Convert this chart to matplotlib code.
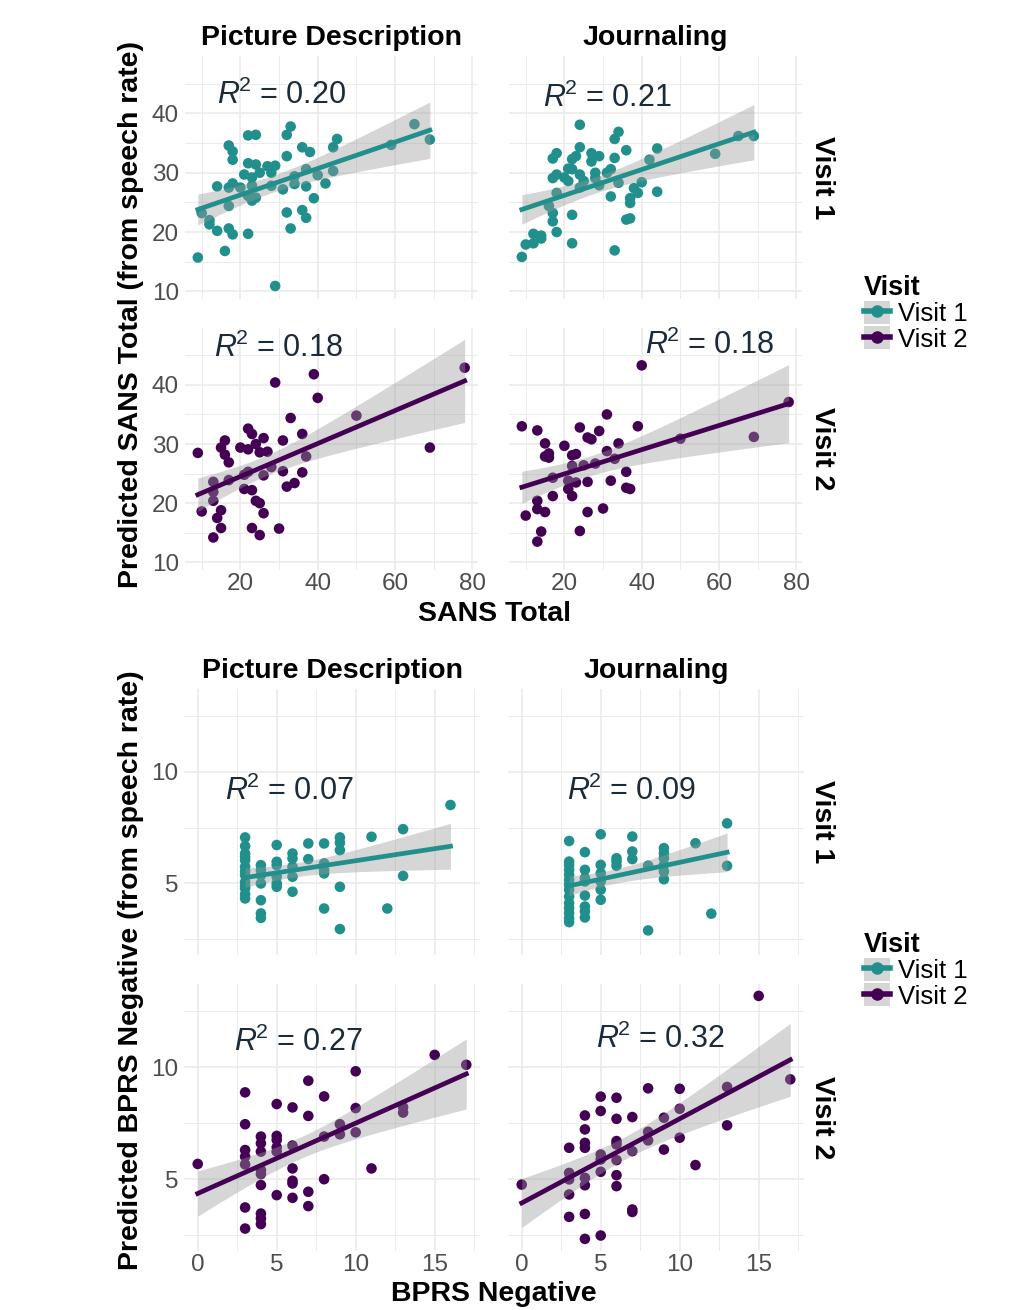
import numpy as np
import matplotlib
matplotlib.use("Agg")
import matplotlib.pyplot as plt
from matplotlib.lines import Line2D
from matplotlib.patches import Patch
from matplotlib.legend_handler import HandlerTuple

plt.rcParams['font.family'] = ['Liberation Sans', 'DejaVu Sans']
plt.rcParams['mathtext.fontset'] = 'custom'
plt.rcParams['mathtext.rm'] = 'Liberation Sans'
plt.rcParams['mathtext.it'] = 'Liberation Sans:italic'

# ---- data: SANS Total vs predicted SANS ----
sans_pd_v1_x = [9, 10, 12, 12, 14, 14, 16, 17, 18, 18, 17, 17, 17, 18, 18, 20, 22, 24, 22, 24,
                21, 23, 25, 27, 29, 28, 23, 22, 23, 24, 22, 28, 29, 31, 32, 32, 33, 32, 33, 34,
                34, 36, 38, 37, 37, 36, 37, 39, 40, 42, 44, 45, 44, 59, 65, 69]
sans_pd_v1_y = [15.7, 23.2, 22.0, 21.3, 20.2, 27.7, 16.8, 34.6, 33.6, 32.2, 27.5, 24.4, 20.6, 19.6, 28.2, 27.5, 36.3, 36.4, 31.6, 31.4,
                29.7, 29.2, 30.0, 31.1, 31.2, 30.0, 27.8, 26.1, 25.3, 25.8, 19.7, 27.8, 10.9, 27.2, 32.8, 36.4, 37.8, 23.3, 20.6, 29.4,
                28.1, 34.3, 33.5, 30.6, 27.7, 23.7, 22.4, 25.7, 29.6, 28.2, 34.3, 35.7, 30.3, 34.7, 38.2, 35.6]

sans_j_v1_x = [9, 10, 12, 12, 14, 14, 16, 17, 17, 18, 18, 17, 18, 17, 18, 20, 21, 21, 22, 23,
               24, 24, 22, 24, 25, 22, 22, 24, 27, 29, 27, 28, 28, 29, 31, 32, 32, 33, 34, 33,
               34, 33, 36, 36, 37, 37, 37, 38, 39, 40, 42, 44, 44, 59, 65, 69]
sans_j_v1_y = [15.8, 17.9, 19.7, 18.1, 18.9, 19.4, 24.4, 23.2, 21.8, 20.0, 26.6, 29.1, 29.7, 32.4, 33.3, 29.2, 28.6, 30.7, 32.3, 32.8,
               34.3, 38.1, 30.6, 29.7, 28.6, 22.9, 18.1, 27.5, 33.3, 32.8, 31.9, 30.0, 29.1, 27.9, 30.0, 30.6, 26.0, 35.7, 36.9, 32.5,
               28.3, 16.9, 33.8, 22.1, 22.3, 24.9, 25.7, 27.4, 26.6, 28.4, 32.2, 34.1, 26.8, 33.2, 36.2, 36.2]

sans_pd_v2_x = [9, 10, 13, 13, 13, 13, 14, 15, 15, 15, 16, 16, 17, 17, 20, 21, 21, 22, 22, 23,
                22, 23, 23, 24, 24, 25, 25, 25, 26, 26, 26, 27, 28, 29, 30, 31, 31, 32, 33, 34,
                36, 36, 37, 39, 40, 50, 69, 78]
sans_pd_v2_y = [28.5, 18.6, 23.6, 21.9, 20.4, 14.2, 17.5, 18.8, 15.8, 29.4, 30.6, 28.2, 26.9, 23.9, 29.4, 24.8, 22.4, 25.3, 32.6, 31.7,
                29.1, 22.2, 15.8, 20.4, 30.0, 20.0, 28.6, 14.6, 31.0, 24.7, 18.3, 28.7, 26.1, 40.4, 15.7, 30.6, 25.4, 22.8, 34.4, 23.4,
                31.7, 25.2, 27.9, 41.8, 37.8, 34.8, 29.4, 42.9]

sans_j_v2_x = [9, 10, 13, 13, 13, 13, 14, 15, 15, 15, 16, 16, 17, 17, 20, 21, 21, 22, 22, 22,
               23, 23, 24, 24, 25, 26, 27, 26, 26, 28, 29, 30, 31, 31, 32, 33, 34, 36, 36, 37,
               39, 40, 50, 69, 78]
sans_j_v2_y = [33.0, 17.9, 32.3, 20.4, 19.0, 13.5, 15.2, 30.1, 18.5, 27.9, 28.4, 27.7, 24.3, 21.2, 29.7, 23.8, 22.4, 21.2, 26.3, 28.1,
               28.3, 23.5, 32.8, 15.3, 26.4, 31.1, 30.8, 23.6, 18.5, 26.7, 32.2, 19.1, 35.0, 28.8, 23.8, 27.5, 30.1, 25.3, 22.6, 22.4,
               33.0, 43.3, 30.9, 31.2, 37.1]

# ---- data: BPRS Negative vs predicted BPRS Negative ----
bprs_pd_v1_x = [3, 3, 3, 3, 3, 3, 3, 3, 3, 3, 3, 3, 3, 4, 4, 4, 4, 4, 4, 4, 5, 5, 5, 5, 5, 5,
                6, 6, 6, 6, 6, 7, 7, 8, 8, 8, 8, 8, 9, 9, 9, 9, 9, 11, 12, 13, 13, 16]
bprs_pd_v1_y = [7.06, 6.67, 6.34, 6.04, 5.75, 5.37, 5.07, 4.78, 4.52, 4.33, 6.19, 5.55, 4.90,
                5.82, 5.60, 5.37, 5.00, 4.25, 3.66, 3.46, 6.72, 5.97, 5.82, 5.30, 5.00, 4.85,
                6.34, 6.12, 5.75, 5.30, 4.63, 6.79, 6.09, 6.79, 5.90, 5.60, 5.45, 3.88,
                7.06, 6.82, 6.49, 4.85, 2.96, 7.09, 3.88, 7.43, 5.34, 8.51]

bprs_j_v1_x = [3, 3, 3, 3, 3, 3, 3, 3, 3, 3, 3, 3, 3, 3, 4, 4, 4, 4, 4, 4, 4, 4, 5, 5, 5, 5, 5, 5,
               6, 6, 6, 7, 7, 7, 8, 8, 9, 9, 9, 9, 9, 9, 11, 12, 13, 13]
bprs_j_v1_y = [6.90, 5.98, 5.83, 5.61, 5.39, 5.16, 4.94, 4.72, 4.42, 4.12, 3.90, 3.68, 3.45, 3.27,
               6.40, 5.61, 5.24, 5.09, 4.46, 3.97, 3.75, 3.48, 7.20, 5.83, 5.46, 5.09, 4.72, 4.27,
               6.13, 5.98, 5.79, 7.10, 6.43, 6.09, 5.80, 2.90, 6.58, 6.35, 6.13, 5.83, 5.54, 5.19,
               6.80, 3.65, 7.69, 5.79]

bprs_pd_v2_x = [0, 3, 3, 3, 3, 3, 3, 3, 4, 4, 4, 4, 4, 4, 4, 4, 4, 5, 5, 5, 5, 5, 5,
                6, 6, 6, 6, 6, 6, 7, 7, 7, 7, 8, 8, 8, 9, 9, 10, 10, 10, 11, 13, 13, 15, 17]
bprs_pd_v2_y = [5.68, 8.87, 7.45, 6.30, 6.01, 5.66, 3.74, 2.80, 6.90, 6.60, 6.23, 5.41, 5.23, 4.74, 3.47, 3.25, 3.00,
                8.35, 6.93, 6.75, 6.42, 6.23, 4.29, 8.20, 6.50, 5.48, 4.93, 4.81, 4.17,
                9.39, 7.82, 4.44, 3.80, 8.69, 6.90, 5.00, 7.45, 7.00, 9.81, 8.17, 7.09, 5.48, 8.21, 7.97, 10.54, 10.10]

bprs_j_v2_x = [0, 3, 3, 3, 3, 3, 4, 4, 4, 4, 4, 4, 4, 4, 5, 5, 5, 5, 5, 5, 6, 6, 6, 6, 6, 6, 6,
               7, 7, 7, 7, 8, 8, 8, 9, 9, 10, 10, 10, 11, 13, 13, 15, 17]
bprs_j_v2_y = [4.76, 6.40, 5.28, 4.99, 4.32, 3.32, 7.84, 7.22, 6.62, 6.40, 5.06, 4.73, 3.45, 2.34,
               8.68, 8.04, 6.10, 5.88, 5.33, 2.49, 8.63, 7.69, 6.70, 6.55, 5.85, 5.18, 4.69,
               7.77, 6.25, 3.65, 3.54, 9.05, 7.11, 6.73, 7.74, 6.32, 9.03, 8.14, 6.85, 5.63, 9.11, 7.40, 13.17, 9.45]

r2_sans = ["0.20", "0.21", "0.18", "0.18"]
r2_bprs = ["0.07", "0.09", "0.27", "0.32"]
tasks = ["Picture Description", "Journaling"]
visits = ["Visit 1", "Visit 2"]

TEAL = "#21908C"
PURPLE = "#440154"
GRID = "#EBEBEB"
W, H = 1024, 1310


def box(x0, y0, x1, y1):
    return [x0 / W, 1 - y1 / H, (x1 - x0) / W, (y1 - y0) / H]


def draw_panel(ax, x, y, color, xlim, ylim, xt, yt, xminor, yminor, r2, r2pos, show_x, show_y):
    x = np.asarray(x, float)
    y = np.asarray(y, float)
    ax.set_xlim(xlim)
    ax.set_ylim(ylim)
    ax.set_xticks(xt)
    ax.set_yticks(yt)
    ax.set_xticks(xminor, minor=True)
    ax.set_yticks(yminor, minor=True)
    ax.grid(True, which='major', color=GRID, lw=1.2, zorder=0)
    ax.grid(True, which='minor', color=GRID, lw=0.7, zorder=0)
    ax.set_axisbelow(True)
    for s in ax.spines.values():
        s.set_visible(False)
    ax.tick_params(which='both', length=0, labelsize=17.5, labelcolor="#4D4D4D")
    ax.tick_params(axis='x', pad=2.5)
    ax.tick_params(axis='y', pad=4)
    if not show_x:
        ax.set_xticklabels([])
    if not show_y:
        ax.set_yticklabels([])

    ax.scatter(x, y, s=58, color=color, edgecolors='none', zorder=2)

    # linear fit + 95% CI, like geom_smooth(method = "lm")
    n = len(x)
    b, a = np.polyfit(x, y, 1)
    xs = np.linspace(x.min(), x.max(), 80)
    fit = a + b * xs
    resid = y - (a + b * x)
    sigma = np.sqrt(np.sum(resid ** 2) / (n - 2))
    sxx = np.sum((x - x.mean()) ** 2)
    se = sigma * np.sqrt(1 / n + (xs - x.mean()) ** 2 / sxx)
    ax.fill_between(xs, fit - 2.0 * se, fit + 2.0 * se, color="#999999", alpha=0.4, lw=0, zorder=3)
    ax.plot(xs, fit, color=color, lw=3.4, zorder=4)

    ax.text(r2pos[0], r2pos[1], r"$R^{\!2}$ = " + r2, fontsize=22, color="#1C2B3A",
            ha='center', va='center', zorder=5)


fig = plt.figure(figsize=(W / 100, H / 100), dpi=100)

# ---------- SANS block ----------
sans_cols = [(184.5, 478), (508.5, 802)]
sans_rows = [(56, 299), (327.5, 570)]
sans_data = [[(sans_pd_v1_x, sans_pd_v1_y), (sans_j_v1_x, sans_j_v1_y)],
             [(sans_pd_v2_x, sans_pd_v2_y), (sans_j_v2_x, sans_j_v2_y)]]
sans_r2pos = [[(30.7, 43.0), (31.0, 42.5)], [(29.7, 46.2), (57.6, 46.7)]]
for i in range(2):
    for j in range(2):
        ax = fig.add_axes(box(sans_cols[j][0], sans_rows[i][0], sans_cols[j][1], sans_rows[i][1]))
        xd, yd = sans_data[i][j]
        draw_panel(ax, xd, yd, TEAL if i == 0 else PURPLE,
                   (5.55, 81.45), (8.7, 49.7), [20, 40, 60, 80], [10, 20, 30, 40],
                   [10, 30, 50, 70], [15, 25, 35, 45], r2_sans[i * 2 + j], sans_r2pos[i][j],
                   show_x=(i == 1), show_y=(j == 0))

# ---------- BPRS block ----------
bprs_cols = [(184.3, 479.7), (508.3, 803.7)]
bprs_rows = [(689, 955), (984, 1251)]
bprs_data = [[(bprs_pd_v1_x, bprs_pd_v1_y), (bprs_j_v1_x, bprs_j_v1_y)],
             [(bprs_pd_v2_x, bprs_pd_v2_y), (bprs_j_v2_x, bprs_j_v2_y)]]
bprs_r2pos = [[(5.78, 9.1), (6.9, 9.1)], [(6.35, 11.1), (8.76, 11.25)]]
for i in range(2):
    for j in range(2):
        ax = fig.add_axes(box(bprs_cols[j][0], bprs_rows[i][0], bprs_cols[j][1], bprs_rows[i][1]))
        xd, yd = bprs_data[i][j]
        draw_panel(ax, xd, yd, TEAL if i == 0 else PURPLE,
                   (-0.85, 17.85), (1.8, 13.7), [0, 5, 10, 15], [5, 10],
                   [2.5, 7.5, 12.5, 17.5], [2.5, 7.5, 12.5], r2_bprs[i * 2 + j], bprs_r2pos[i][j],
                   show_x=(i == 1), show_y=(j == 0))

# strip labels
for cols, ytop in [(sans_cols, 38), (bprs_cols, 671)]:
    for j in range(2):
        fig.text((cols[j][0] + cols[j][1]) / 2 / W, 1 - ytop / H, tasks[j],
                 ha='center', va='center', fontsize=20.5, fontweight='bold')
for rows in [sans_rows, bprs_rows]:
    for i in range(2):
        fig.text(822 / W, 1 - (rows[i][0] + rows[i][1]) / 2 / H, visits[i], rotation=-90,
                 ha='center', va='center', fontsize=20.5, fontweight='bold')

# axis titles
fig.text(494 / W, 1 - 614 / H, "SANS Total", ha='center', va='center', fontsize=20.5, fontweight='bold')
fig.text(494 / W, 1 - 1294 / H, "BPRS Negative", ha='center', va='center', fontsize=20.5, fontweight='bold')
fig.text(131 / W, 1 - 315 / H, "Predicted SANS Total (from speech rate)", rotation=90,
         ha='center', va='center', fontsize=20.5, fontweight='bold')
fig.text(131 / W, 1 - 970 / H, "Predicted BPRS Negative (from speech rate)", rotation=90,
         ha='center', va='center', fontsize=20.5, fontweight='bold')

# legends
handles = [(Patch(facecolor="#999999", alpha=0.4, lw=0),
            Line2D([], [], color=c, lw=4, marker='o', markersize=8)) for c in (TEAL, PURPLE)]
for ytop in (270, 927):
    fig.legend(handles, visits, loc='upper left', bbox_to_anchor=(859 / W, 1 - ytop / H),
               frameon=False, title="Visit", alignment='left', fontsize=18.5,
               title_fontproperties={'weight': 'bold', 'size': 19.5},
               handler_map={tuple: HandlerTuple(ndivide=1, pad=0)},
               handlelength=1.0, handleheight=1.0, labelspacing=0.0,
               handletextpad=0.3, borderpad=0.2, borderaxespad=0)

fig.savefig("out.png", dpi=100)
